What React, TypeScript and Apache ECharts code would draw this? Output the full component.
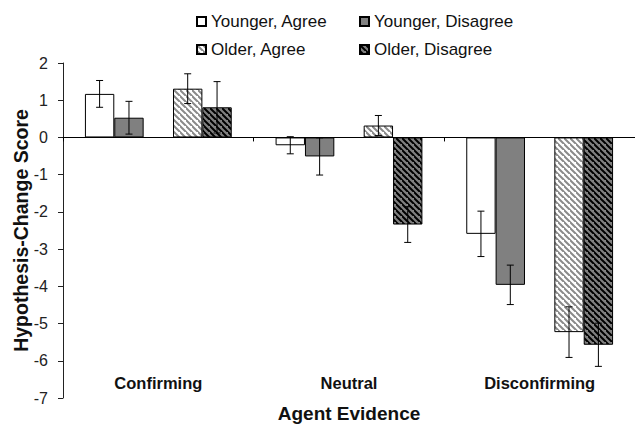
import React, { useEffect, useRef } from "react";
import * as echarts from "echarts";

// Agent evidence categories and group labels
const categories = ["Confirming", "Neutral", "Disconfirming"];
const seriesNames = ["Younger, Agree", "Younger, Disagree", "Older, Agree", "Older, Disagree"];

// Mean hypothesis-change scores per group
const youngerAgree = [1.17, -0.21, -2.59];
const youngerDisagree = [0.53, -0.51, -3.96];
const olderAgree = [1.31, 0.32, -5.23];
const olderDisagree = [0.81, -2.34, -5.57];

// Standard errors per group
const youngerAgreeErr = [0.36, 0.23, 0.61];
const youngerDisagreeErr = [0.44, 0.5, 0.53];
const olderAgreeErr = [0.4, 0.27, 0.68];
const olderDisagreeErr = [0.69, 0.48, 0.58];

const FONT = "'Liberation Sans', Arial, Helvetica, sans-serif";
const CATEGORY_GAP = 0.23;
const SLOTS = 5;

function stripes(bg: string, fg: string) {
  const size = 6;
  const c = document.createElement("canvas");
  c.width = size;
  c.height = size;
  const ctx = c.getContext("2d")!;
  ctx.fillStyle = bg;
  ctx.fillRect(0, 0, size, size);
  ctx.strokeStyle = fg;
  ctx.lineWidth = 2;
  ctx.beginPath();
  ctx.moveTo(-1, -1);
  ctx.lineTo(size + 1, size + 1);
  ctx.moveTo(-size - 1, -1);
  ctx.lineTo(1, size + 1);
  ctx.moveTo(size - 1, -size - 1);
  ctx.lineTo(2 * size + 1, size + 1);
  ctx.stroke();
  return { image: c, repeat: "repeat", imageWidth: size, imageHeight: size };
}

export default function App() {
  const ref = useRef<HTMLDivElement>(null);

  useEffect(() => {
    if (!ref.current) return;
    const chart = echarts.init(ref.current, undefined, { renderer: "svg" });

    const barBase = {
      type: "bar",
      xAxisIndex: 0,
      barGap: "0%",
      barCategoryGap: CATEGORY_GAP * 100 + "%",
      z: 2,
    };
    const border = { borderColor: "#000", borderWidth: 1 };

    // slot offsets relative to category centre: -2,-1,(gap),+1,+2
    const errorData: number[][] = [];
    const groups = [
      { vals: youngerAgree, errs: youngerAgreeErr, slot: -2 },
      { vals: youngerDisagree, errs: youngerDisagreeErr, slot: -1 },
      { vals: olderAgree, errs: olderAgreeErr, slot: 1 },
      { vals: olderDisagree, errs: olderDisagreeErr, slot: 2 },
    ];
    groups.forEach((g) => {
      g.vals.forEach((v, i) => errorData.push([i, v, g.errs[i], g.slot]));
    });

    const legendBase = {
      orient: "vertical",
      top: 13,
      padding: 0,
      itemWidth: 9,
      itemHeight: 9,
      itemGap: 11,
      icon: "rect",
      textStyle: { fontSize: 17, color: "#111", fontFamily: FONT },
    };

    const option: any = {
      animation: false,
      textStyle: { fontFamily: FONT },
      grid: { left: 63, right: 0, top: 63, bottom: 26, containLabel: false, outerBoundsMode: "none" },
      legend: [
        { ...legendBase, left: 196, data: [seriesNames[0], seriesNames[2]] },
        { ...legendBase, left: 359, data: [seriesNames[1], seriesNames[3]] },
      ],
      xAxis: [
        {
          type: "category",
          data: categories,
          axisLine: { onZero: true, lineStyle: { color: "#000", width: 1 } },
          axisTick: { show: true, length: 4, lineStyle: { color: "#000" } },
          axisLabel: { show: false },
          splitLine: { show: false },
          z: 5,
        },
        {
          type: "category",
          data: categories,
          position: "bottom",
          axisLine: { show: false, onZero: false },
          axisTick: { show: false },
          axisLabel: {
            inside: true,
            margin: 7,
            fontSize: 16.5,
            fontWeight: "bold",
            color: "#111",
            fontFamily: FONT,
          },
          name: "Agent Evidence",
          nameLocation: "middle",
          nameGap: 6,
          nameTextStyle: { fontSize: 19, fontWeight: "bold", color: "#111", fontFamily: FONT },
        },
      ],
      yAxis: {
        type: "value",
        min: -7,
        max: 2,
        interval: 1,
        axisLine: { show: true, lineStyle: { color: "#222", width: 1 } },
        axisTick: { show: true, length: 5, lineStyle: { color: "#222" } },
        axisLabel: { fontSize: 16, color: "#222", margin: 15, fontFamily: FONT },
        splitLine: { show: false },
        name: "Hypothesis-Change Score",
        nameLocation: "middle",
        nameGap: 32,
        nameMoveOverlap: false,
        nameTextStyle: { fontSize: 19.5, fontWeight: "bold", color: "#111", fontFamily: FONT },
      },
      series: [
        { ...barBase, name: seriesNames[0], data: youngerAgree, itemStyle: { color: "#fff", ...border } },
        { ...barBase, name: seriesNames[1], data: youngerDisagree, itemStyle: { color: "#808080", ...border } },
        { ...barBase, name: "gap", data: categories.map(() => null), itemStyle: { color: "transparent" } },
        { ...barBase, name: seriesNames[2], data: olderAgree, itemStyle: { color: stripes("#ffffff", "#8a8a8a"), ...border } },
        { ...barBase, name: seriesNames[3], data: olderDisagree, itemStyle: { color: stripes("#808080", "#000000"), ...border } },
        {
          type: "custom",
          name: "error",
          xAxisIndex: 0,
          z: 10,
          data: errorData,
          encode: { x: 0, y: 1 },
          renderItem: (params: any, api: any) => {
            const c = api.value(0);
            const v = api.value(1);
            const e = api.value(2);
            const slot = api.value(3);
            const catW = api.size([1, 0])[0];
            const slotW = (catW * (1 - CATEGORY_GAP)) / SLOTS;
            const cx = api.coord([c, 0])[0] + slot * slotW;
            const yTop = api.coord([c, v + e])[1];
            const yBot = api.coord([c, v - e])[1];
            const half = 3.5;
            const style = { stroke: "#000", lineWidth: 1 };
            return {
              type: "group",
              children: [
                { type: "line", shape: { x1: cx, y1: yTop, x2: cx, y2: yBot }, style },
                { type: "line", shape: { x1: cx - half, y1: yTop, x2: cx + half, y2: yTop }, style },
                { type: "line", shape: { x1: cx - half, y1: yBot, x2: cx + half, y2: yBot }, style },
              ],
            };
          },
        },
      ],
    };

    chart.setOption(option);
    return () => chart.dispose();
  }, []);

  return <div ref={ref} style={{ width: 635, height: 424, position: "absolute", left: 0, top: 0, background: "#fff" }} />;
}
